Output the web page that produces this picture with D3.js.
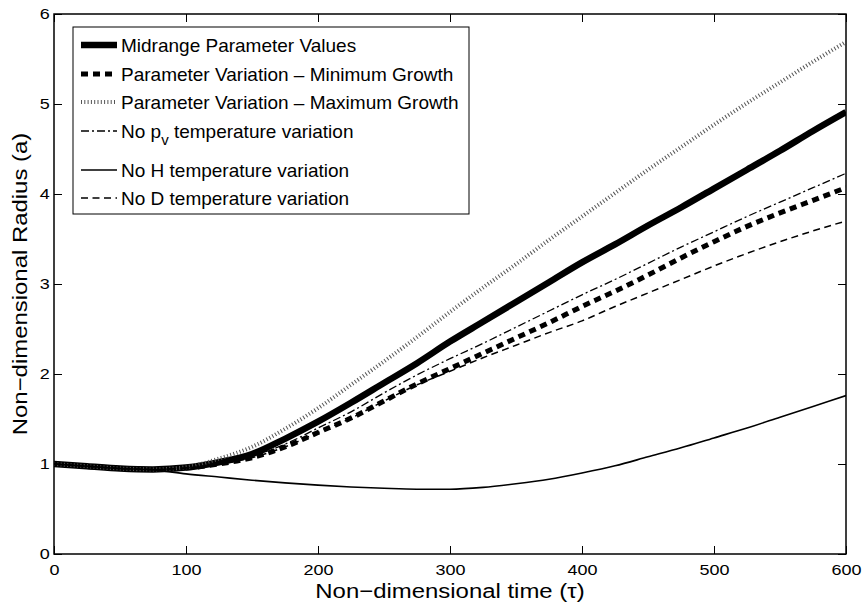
<!DOCTYPE html>
<html>
<head>
<meta charset="utf-8">
<script src="https://cdn.jsdelivr.net/npm/d3@7"></script>
<style>
  body { margin: 0; background: #fff; }
  text { font-family: "Liberation Sans", Arial, sans-serif; fill: #000; }
</style>
</head>
<body>
<svg id="chart" width="863" height="605"></svg>
<script>
// time axis (tau) and radius values
var times = [0,25,50,75,100,125,150,175,200,225,250,275,300,325,350,375,400,425,450,475,500,525,550,575,600];
var midrange  = [1.00,0.975,0.95,0.94,0.96,1.02,1.11,1.28,1.47,1.68,1.90,2.12,2.36,2.58,2.80,3.02,3.24,3.44,3.65,3.85,4.06,4.27,4.48,4.70,4.91];
var minGrowth = [1.00,0.975,0.95,0.94,0.955,1.00,1.07,1.19,1.35,1.51,1.70,1.89,2.06,2.23,2.40,2.57,2.75,2.92,3.10,3.29,3.47,3.64,3.79,3.93,4.07];
var maxGrowth = [1.00,0.975,0.95,0.94,0.965,1.06,1.19,1.39,1.62,1.88,2.14,2.41,2.69,2.96,3.22,3.49,3.75,4.01,4.27,4.52,4.77,5.01,5.24,5.47,5.69];
var noPv      = [1.00,0.975,0.95,0.94,0.958,1.01,1.09,1.22,1.40,1.58,1.79,1.99,2.17,2.34,2.52,2.70,2.88,3.05,3.23,3.41,3.58,3.75,3.91,4.07,4.23];
var noH       = [1.00,0.975,0.95,0.935,0.89,0.855,0.82,0.79,0.765,0.745,0.73,0.72,0.72,0.74,0.78,0.83,0.90,0.98,1.08,1.18,1.29,1.40,1.52,1.64,1.76];
var noD       = [1.00,0.975,0.95,0.94,0.955,1.00,1.07,1.19,1.35,1.51,1.70,1.88,2.03,2.18,2.32,2.46,2.59,2.75,2.90,3.05,3.20,3.34,3.47,3.59,3.70];

var xTicks = [0,100,200,300,400,500,600];
var yTicks = [0,1,2,3,4,5,6];

var series = [
  {name: "Midrange Parameter Values", values: midrange, width: 6.5, dash: null, color: "#000"},
  {name: "Parameter Variation \u2013 Minimum Growth", values: minGrowth, width: 5, dash: "7,5", color: "#000"},
  {name: "Parameter Variation \u2013 Maximum Growth", values: maxGrowth, width: 4, dash: "1,2.3", color: "#555"},
  {name: "No p_v temperature variation", values: noPv, width: 1.3, dash: "8,3,2,3", color: "#000"},
  {name: "No H temperature variation", values: noH, width: 1.6, dash: null, color: "#000"},
  {name: "No D temperature variation", values: noD, width: 1.5, dash: "7,4.5", color: "#000"}
];

var svg = d3.select("#chart");
var margin = {left: 54, top: 14, right: 17, bottom: 51};
var W = 863, H = 605;
var stretch = 1.2; // the figure's tick text is drawn wider than it is tall

var x = d3.scaleLinear().domain([0, 600]).range([margin.left, W - margin.right]);
var y = d3.scaleLinear().domain([0, 6]).range([H - margin.bottom, margin.top]);

svg.append("rect").attr("width", W).attr("height", H).attr("fill", "#fff");

svg.append("clipPath").attr("id", "plotclip")
  .append("rect")
  .attr("x", x(0)).attr("y", y(6))
  .attr("width", x(600) - x(0)).attr("height", y(0) - y(6));

// axes with inward ticks on all four sides
var tick = 8;
var fmt = d3.format("d");
svg.append("g").attr("class", "xb").attr("transform", "translate(0," + y(0) + ")")
  .call(d3.axisBottom(x).tickValues(xTicks).tickFormat(fmt).tickSizeInner(-tick).tickSizeOuter(0).tickPadding(10.5))
  .call(function(g){ g.select(".domain").remove(); });
svg.append("g").attr("transform", "translate(0," + y(6) + ")")
  .call(d3.axisTop(x).tickValues(xTicks).tickSizeInner(-tick).tickSizeOuter(0).tickFormat(""))
  .call(function(g){ g.select(".domain").remove(); });
svg.append("g").attr("class", "yl").attr("transform", "translate(" + x(0) + ",0)")
  .call(d3.axisLeft(y).tickValues(yTicks).tickFormat(fmt).tickSizeInner(-tick).tickSizeOuter(0).tickPadding(3.5))
  .call(function(g){ g.select(".domain").remove(); });
svg.append("g").attr("transform", "translate(" + x(600) + ",0)")
  .call(d3.axisRight(y).tickValues(yTicks).tickSizeInner(-tick).tickSizeOuter(0).tickFormat(""))
  .call(function(g){ g.select(".domain").remove(); });

svg.selectAll(".tick line").attr("stroke", "#000").attr("stroke-width", 1);
svg.selectAll(".xb .tick text, .yl .tick text")
  .attr("font-size", 15)
  .attr("font-family", "Liberation Sans, Arial, sans-serif")
  .attr("transform", "scale(" + stretch + ",1)");

// curves
var line = d3.line()
  .x(function(d, i){ return x(times[i]); })
  .y(function(d){ return y(d); })
  .curve(d3.curveMonotoneX);

var plot = svg.append("g").attr("clip-path", "url(#plotclip)");
series.forEach(function(s){
  plot.append("path")
    .attr("d", line(s.values))
    .attr("fill", "none")
    .attr("stroke", s.color)
    .attr("stroke-width", s.width)
    .attr("stroke-dasharray", s.dash)
    .attr("stroke-linejoin", "round");
});

// frame
svg.append("rect")
  .attr("x", x(0)).attr("y", y(6))
  .attr("width", x(600) - x(0)).attr("height", y(0) - y(6))
  .attr("fill", "none").attr("stroke", "#000").attr("stroke-width", 1.5);

// axis titles
svg.append("text")
  .attr("transform", "translate(" + (x(0) + x(600)) / 2 + ",597.5) scale(1.14,1)")
  .attr("text-anchor", "middle").attr("font-size", 21)
  .text("Non\u2212dimensional time (\u03c4)");
svg.append("text")
  .attr("transform", "translate(27," + (y(0) + y(6)) / 2 + ") rotate(-90) scale(1.14,1)")
  .attr("text-anchor", "middle").attr("font-size", 21)
  .text("Non\u2212dimensional Radius (a)");

// legend
var legend = svg.append("g");
legend.append("rect")
  .attr("x", 73).attr("y", 27).attr("width", 396).attr("height", 187)
  .attr("fill", "#fff").attr("stroke", "#000").attr("stroke-width", 1);

var rowY = [45, 74, 102, 131, 170, 198];
series.forEach(function(s, i){
  legend.append("line")
    .attr("x1", 81).attr("x2", 117).attr("y1", rowY[i]).attr("y2", rowY[i])
    .attr("stroke", s.color).attr("stroke-width", s.width)
    .attr("stroke-dasharray", s.dash);
  var t = legend.append("text")
    .attr("x", 121).attr("y", rowY[i]).attr("dy", "0.36em")
    .attr("font-size", 19);
  if (s.name.indexOf("p_v") >= 0) {
    t.append("tspan").text("No p");
    t.append("tspan").attr("dy", 7).attr("font-size", 15).text("v");
    t.append("tspan").attr("dy", -7).text(" temperature variation");
  } else {
    t.text(s.name);
  }
});
</script>
</body>
</html>
